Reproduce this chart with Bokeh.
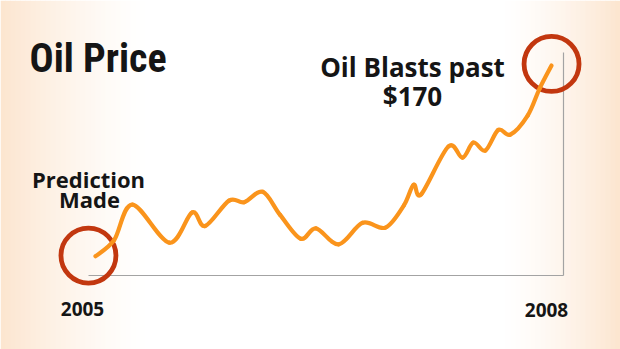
from bokeh.plotting import figure
from bokeh.models import Range1d, Label
from bokeh.embed import file_html
from bokeh.resources import INLINE

# ---- data (months since Jan 2005, price in USD) ----
months = [0, 1.7, 3.4, 6.8, 8.9, 10.1, 12.3, 13.7, 15.4, 17.0, 18.9, 20.3, 22.4, 24.6,
          26.7, 28.4, 29.3, 30.0, 32.5, 33.8, 34.8, 35.9, 37.1, 38.2, 39.8, 40.9, 42.0]
prices = [50, 60, 82.5, 58.5, 77.5, 69, 85, 84, 90.5, 76, 61, 67.5, 57.5, 71,
          68, 82, 95, 89, 119, 112, 121.5, 116.5, 129.5, 126.5, 138.5, 155.5, 170]
tick_labels = ["2005", "2008"]
title = "Oil Price"
start_note = ["Prediction", "Made"]
end_note = ["Oil Blasts past", "$170"]

W, H = 620, 349
X0, X1 = -8.75, 48.35
Y0, Y1 = -8.7, 210.9

def sx(px):
    return X0 + px * (X1 - X0) / W

def sy(py):
    return Y1 - py * (Y1 - Y0) / H

p = figure(width=W, height=H, x_range=Range1d(X0, X1), y_range=Range1d(Y0, Y1),
           output_backend="svg", toolbar_location=None,
           x_axis_location=None, y_axis_location=None, min_border=0)
p.outline_line_color = None
p.grid.visible = False
p.background_fill_color = "white"
p.border_fill_color = "white"

# background gradient (peach edges)
peach = (252, 229, 207)
lefts, rights, cols = [], [], []
step = 5
for px in range(0, W, step):
    c = px + step / 2
    t = 0.0
    if c < 150:
        t = (1 - c / 150) ** 1.4
    elif c > 500:
        t = ((c - 500) / 120) ** 1.4
    r = int(round(255 + (peach[0] - 255) * t))
    g = int(round(255 + (peach[1] - 255) * t))
    b = int(round(255 + (peach[2] - 255) * t))
    lefts.append(sx(px)); rights.append(sx(px + step + 0.5))
    cols.append("#%02x%02x%02x" % (r, g, b))
p.quad(left=lefts, right=rights, bottom=Y0, top=Y1, fill_color=cols, line_color=None)

# frame lines (bottom and right)
axis_col = "#a3a3a3"
p.segment(x0=[sx(88), sx(563)], y0=[sy(275), sy(275)], x1=[sx(563), sx(563)], y1=[sy(275), sy(52)],
          line_color=axis_col, line_width=1.2)

# highlight circles
ring = "#c2370f"
p.scatter(x=[months[0] - 0.65], y=[prices[0] + 0.4], size=55, marker="circle",
          fill_color=None, line_color=ring, line_width=4.8)
p.scatter(x=[months[-1]], y=[prices[-1] + 1], size=55, marker="circle",
          fill_color=None, line_color=ring, line_width=4.8)

# smooth price line (Catmull-Rom -> cubic Bezier through the read points)
n = len(months)
bx0, by0, bx1, by1, cx0, cy0, cx1, cy1 = [], [], [], [], [], [], [], []
for i in range(n - 1):
    a = max(i - 1, 0); d = min(i + 2, n - 1)
    bx0.append(months[i]); by0.append(prices[i])
    bx1.append(months[i + 1]); by1.append(prices[i + 1])
    cx0.append(months[i] + (months[i + 1] - months[a]) / 6)
    cy0.append(prices[i] + (prices[i + 1] - prices[a]) / 6)
    cx1.append(months[i + 1] - (months[d] - months[i]) / 6)
    cy1.append(prices[i + 1] - (prices[d] - prices[i]) / 6)
p.bezier(x0=bx0, y0=by0, x1=bx1, y1=by1, cx0=cx0, cy0=cy0, cx1=cx1, cy1=cy1,
         line_color="#fa941c", line_width=4.2, line_cap="round")

txt = "#151515"
font = "Open Sans"

def lab(text, px, py, size, align="center", f=font):
    p.add_layout(Label(x=sx(px), y=sy(py), text=text, text_font=f, text_font_size=f"{size}px",
                       text_font_style="bold", text_color=txt, text_align=align,
                       text_baseline="alphabetic"))

lab(title, 29, 58, 40, align="left", f="'Roboto Condensed', Roboto, sans-serif")
lab(start_note[0], 88, 178, 22)
lab(start_note[1], 89, 198, 22)
lab(end_note[0], 412, 66, 26)
lab(end_note[1], 412, 95, 26)
lab(tick_labels[0], 82, 308, 19)
lab(tick_labels[1], 546, 309, 19)

open("out.html", "w").write(file_html(p, INLINE))
